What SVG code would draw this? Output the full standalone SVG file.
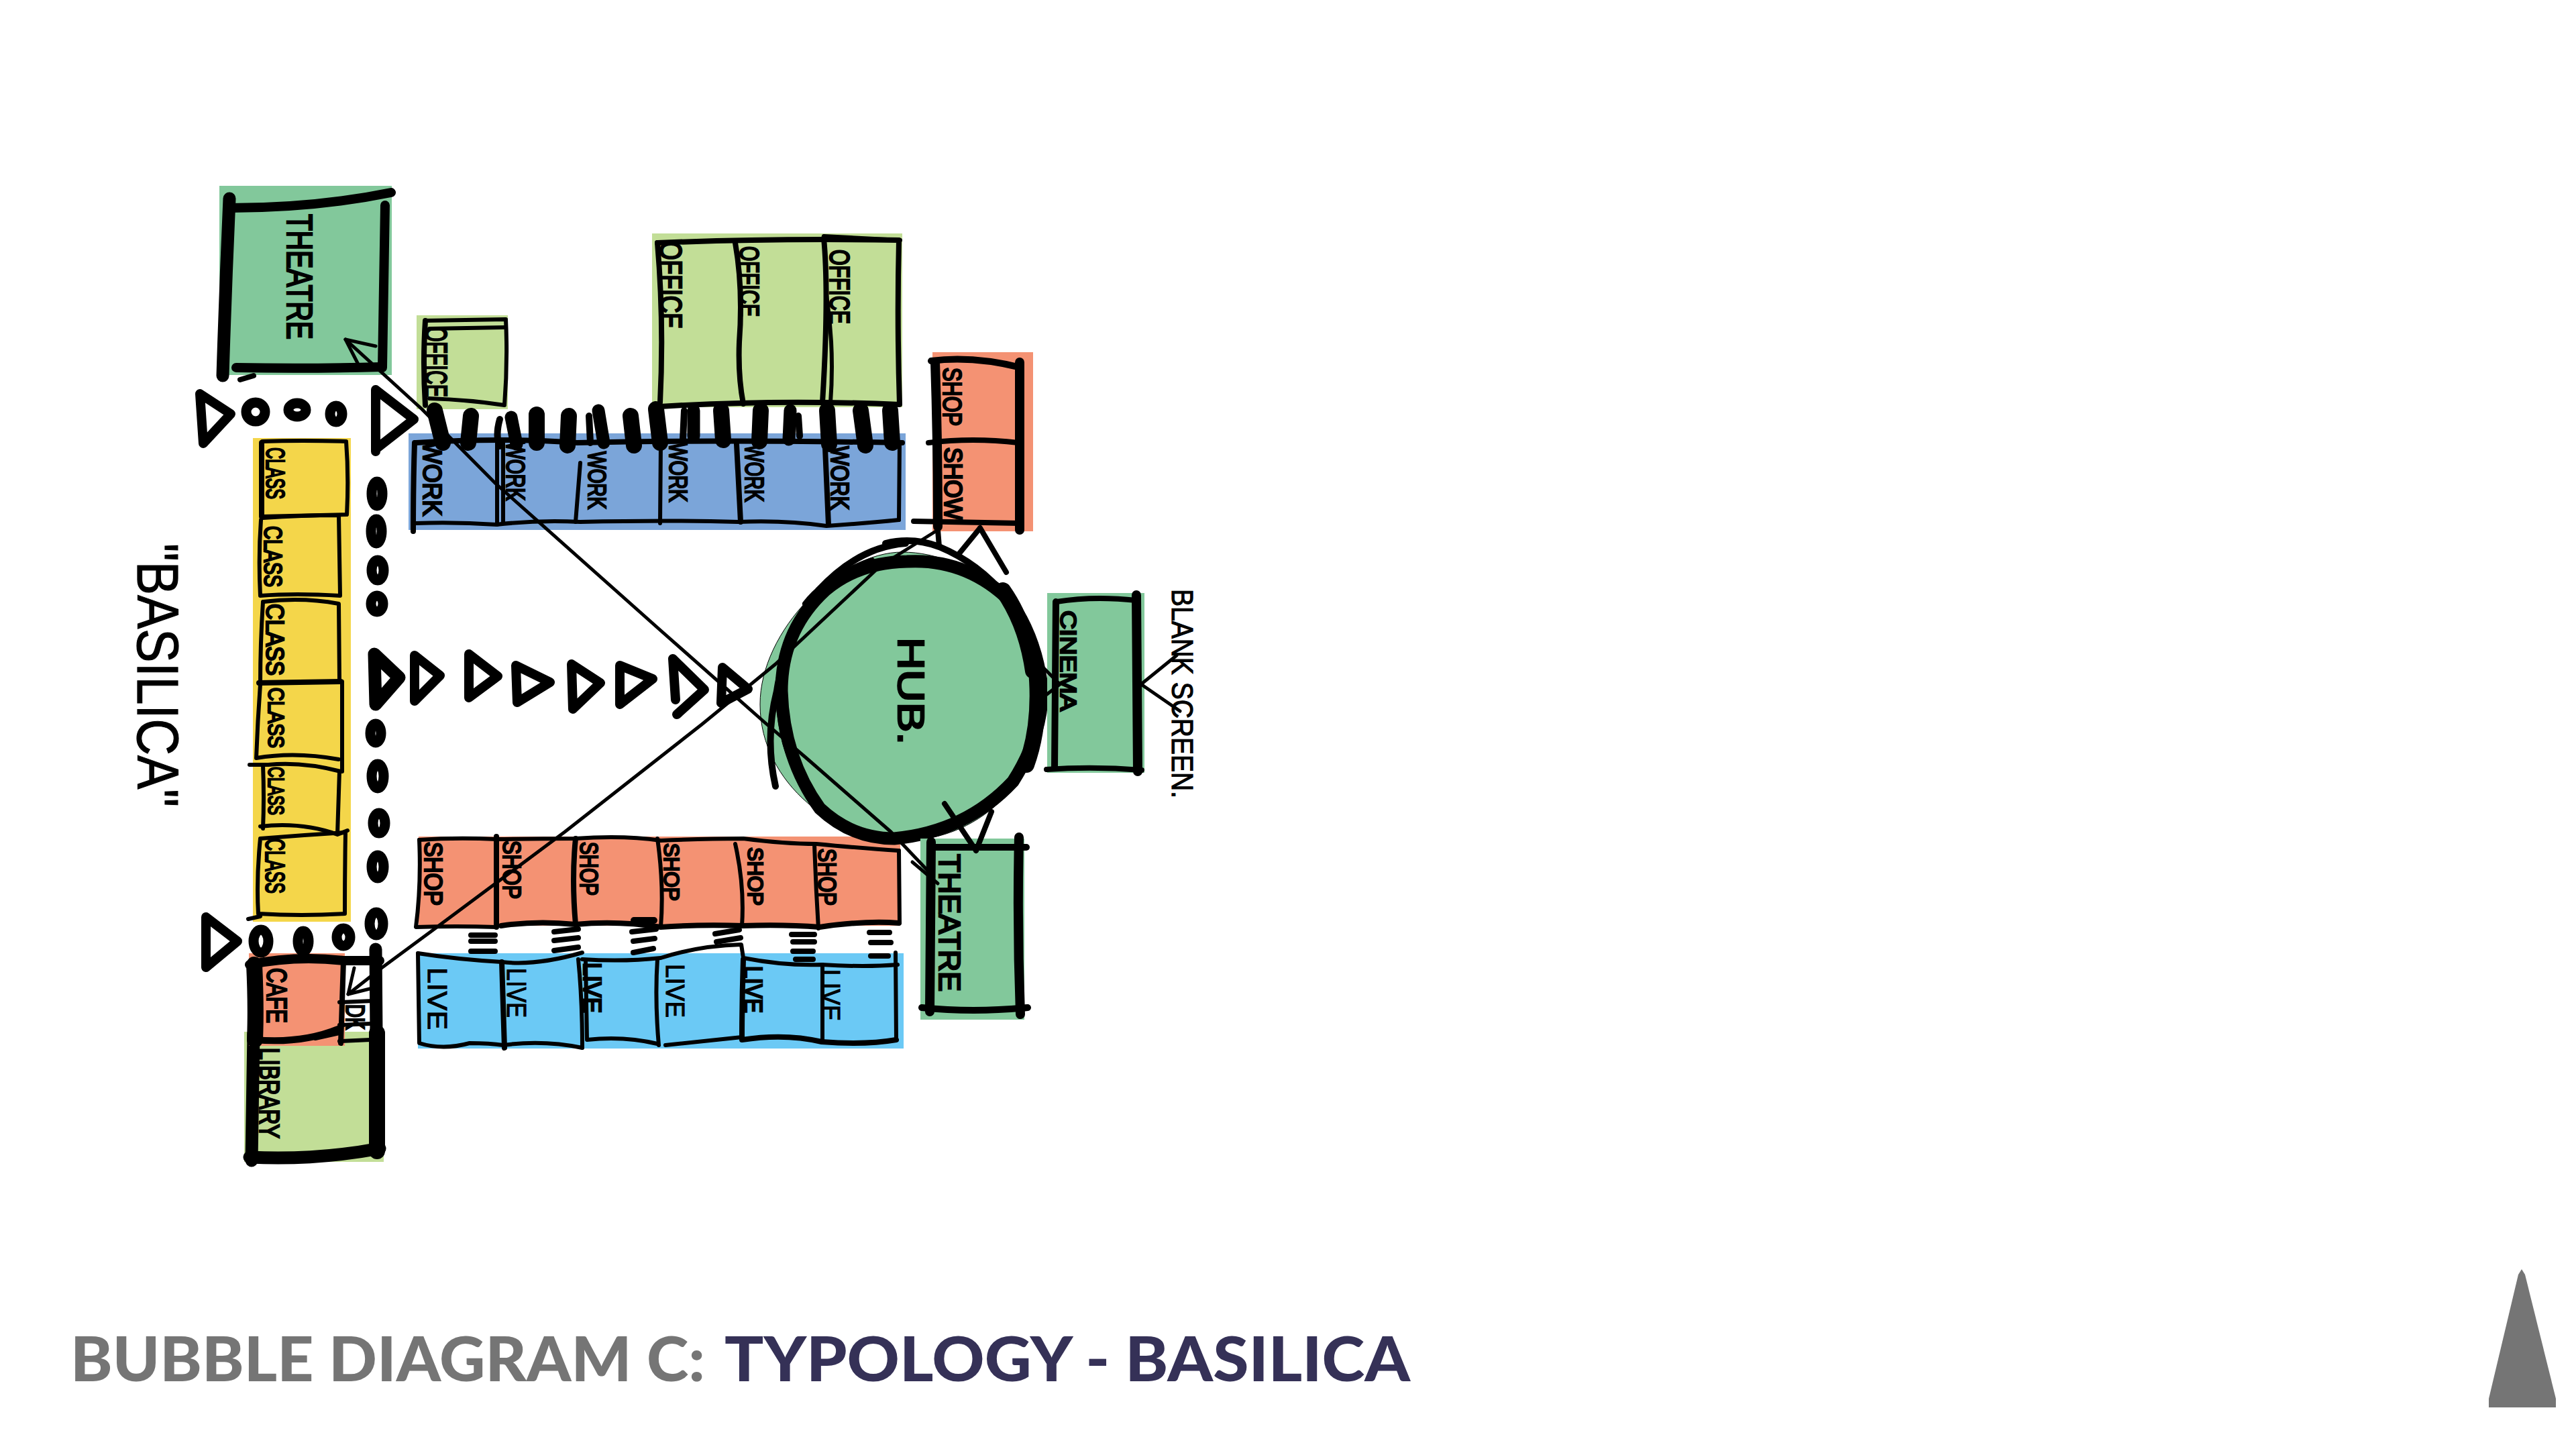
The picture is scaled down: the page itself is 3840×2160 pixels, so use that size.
<svg xmlns="http://www.w3.org/2000/svg" width="3840" height="2160" viewBox="0 0 3840 2160">
<style>
.g{fill:#82c89b}.lg{fill:#c2de97}.b{fill:#7ba5d9}.y{fill:#f4d64a}.o{fill:#f49273}.s{fill:#6bc9f5}
path,ellipse,polyline{stroke:#000;fill:none;stroke-linecap:round;stroke-linejoin:round}
.w4{stroke-width:4}.w5{stroke-width:6}.w7{stroke-width:8}.w9{stroke-width:10}.w12{stroke-width:14}.w16{stroke-width:19}.w22{stroke-width:24}.c{stroke-width:15}
.thin{stroke-width:5}
text{font-family:"Liberation Sans",Arial,sans-serif;fill:#000}
.h{stroke:#000;stroke-width:2.6;font-weight:400}
.h2{stroke:#000;stroke-width:1.2;font-weight:400}
.title{font-family:Lato,"Liberation Sans",sans-serif;font-weight:900;font-size:92px;stroke:none}
</style>
<rect width="3840" height="2160" fill="#fff"/>

<g id="node-theatre-1">
<rect class="g" x="327" y="277" width="257" height="282"/>
<path class="w16" d="M342 296Q336 430 332 560"/>
<path class="w12" d="M342 310Q470 310 583 287"/>
<path class="w12" d="M574 306Q572 430 570 548"/>
<path class="w12" d="M352 548Q460 550 568 547"/>
<path class="w7" d="M358 566L378 560"/>
<text class="h" font-size="54" transform="translate(428 319) rotate(90)" textLength="187" lengthAdjust="spacingAndGlyphs">THEATRE</text>
</g>

<g id="node-office-small">
<rect class="lg" x="621" y="470" width="136" height="140"/>
<path class="w5" d="M634 478L754 476Q757 540 752 604Q700 596 640 594"/>
<path class="w5" d="M640 490L752 488"/>
<path class="w7" d="M634 478Q630 540 634 604"/>
<text class="h" font-size="46" transform="translate(634 487) rotate(90)" textLength="105" lengthAdjust="spacingAndGlyphs">OFFICE</text>
</g>

<g id="node-offices">
<rect class="lg" x="972" y="348" width="373" height="259"/>
<path class="w7" d="M980 362Q1150 355 1340 358Q1337 480 1341 603Q1160 595 984 606"/>
<path class="w7" d="M980 362Q990 480 984 600"/>
<path class="w7" d="M1096 362Q1108 430 1102 510Q1100 560 1108 602"/>
<path class="w7" d="M1228 355Q1236 440 1226 600"/>
<path class="w5" d="M1232 440Q1244 520 1238 600"/>
<path class="w5" d="M1228 352L1342 358"/>
<text class="h" font-size="46" transform="translate(984 360) rotate(90)" textLength="130" lengthAdjust="spacingAndGlyphs">OFFICE</text>
<text class="h" font-size="40" transform="translate(1103 367) rotate(90)" textLength="105" lengthAdjust="spacingAndGlyphs">OFFICE</text>
<text class="h" font-size="42" transform="translate(1237 372) rotate(90)" textLength="111" lengthAdjust="spacingAndGlyphs">OFFICE</text>
</g>

<g id="node-work">
<rect class="b" x="609" y="646" width="741" height="144"/>
<path class="w7" d="M620 660Q750 652 860 660Q1050 655 1345 660"/>
<path class="w7" d="M618 660Q616 720 616 792"/>
<path class="w5" d="M620 780Q680 778 740 782Q800 775 865 778Q1000 775 1100 778Q1170 775 1232 784Q1290 780 1340 775"/>
<path class="w5" d="M741 660L741 782"/>
<path class="w5" d="M750 660L750 780"/>
<path class="w5" d="M865 690L858 778"/>
<path class="w5" d="M985 660L984 780"/>
<path class="w7" d="M1098 662L1104 778"/>
<path class="w7" d="M1230 668L1235 782"/>
<path class="w5" d="M1341 660L1340 775"/>
<text class="h" font-size="38" transform="translate(631 658) rotate(90)" textLength="111" lengthAdjust="spacingAndGlyphs">WORK</text>
<text class="h" font-size="38" transform="translate(755 658) rotate(90)" textLength="88" lengthAdjust="spacingAndGlyphs">WORK</text>
<text class="h" font-size="36" transform="translate(877 673) rotate(90)" textLength="86" lengthAdjust="spacingAndGlyphs">WORK</text>
<text class="h" font-size="36" transform="translate(998 660) rotate(90)" textLength="88" lengthAdjust="spacingAndGlyphs">WORK</text>
<text class="h" font-size="38" transform="translate(1111 663) rotate(90)" textLength="85" lengthAdjust="spacingAndGlyphs">WORK</text>
<text class="h" font-size="36" transform="translate(1239 665) rotate(90)" textLength="95" lengthAdjust="spacingAndGlyphs">WORK</text>
</g>

<g id="node-shop-show">
<rect class="o" x="1390" y="525" width="150" height="267"/>
<path class="w9" d="M1388 538Q1450 530 1522 548"/>
<path class="w12" d="M1394 540Q1398 660 1398 785"/>
<path class="w12" d="M1520 540L1520 790"/>
<path class="w7" d="M1384 660Q1450 652 1518 660"/>
<path class="w7" d="M1362 777L1520 780"/>
<text class="h" font-size="38" transform="translate(1406 548) rotate(90)" textLength="87" lengthAdjust="spacingAndGlyphs">SHOP</text>
<text class="h" font-size="36" transform="translate(1408 667) rotate(90)" textLength="108" lengthAdjust="spacingAndGlyphs">SHOW</text>
</g>

<g id="node-class">
<rect class="y" x="377" y="653" width="146" height="721"/>
<path class="w5" d="M391 658Q450 656 516 658Q520 710 517 767L390 770"/>
<path class="w7" d="M390 660L390 770"/>
<path class="w5" d="M392 772Q450 768 505 768L507 888Q440 884 388 888Q385 830 389 775"/>
<path class="w5" d="M393 897Q450 890 505 900L506 1013"/>
<path class="w5" d="M392 897Q388 960 388 1018"/>
<path class="w7" d="M386 1018L508 1016"/>
<path class="w5" d="M388 1020Q384 1075 382 1130Q440 1120 505 1132"/>
<path class="w5" d="M510 1016L510 1150"/>
<path class="w5" d="M372 1140L400 1140Q450 1135 508 1150"/>
<path class="w5" d="M392 1140Q394 1190 392 1235"/>
<path class="w5" d="M506 1150L503 1243"/>
<path class="w5" d="M388 1232Q450 1225 503 1244L518 1238"/>
<path class="w5" d="M388 1250Q450 1245 515 1241Q514 1300 514 1362Q450 1366 385 1362Q382 1310 388 1250"/>
<path class="w5" d="M370 1370L388 1366"/>
<text class="h" font-size="38" transform="translate(397 667) rotate(90)" textLength="77" lengthAdjust="spacingAndGlyphs">CLASS</text>
<text class="h" font-size="36" transform="translate(394 784) rotate(90)" textLength="91" lengthAdjust="spacingAndGlyphs">CLASS</text>
<text class="h" font-size="36" transform="translate(397 900) rotate(90)" textLength="107" lengthAdjust="spacingAndGlyphs">CLASS</text>
<text class="h" font-size="34" transform="translate(400 1025) rotate(90)" textLength="90" lengthAdjust="spacingAndGlyphs">CLASS</text>
<text class="h" font-size="34" transform="translate(400 1143) rotate(90)" textLength="72" lengthAdjust="spacingAndGlyphs">CLASS</text>
<text class="h" font-size="40" transform="translate(396 1250) rotate(90)" textLength="82" lengthAdjust="spacingAndGlyphs">CLASS</text>
</g>

<g id="node-shops">
<rect class="o" x="624" y="1247" width="718" height="133"/>
<path class="w5" d="M625 1252Q680 1248 740 1251Q800 1250 858 1250Q930 1245 985 1253Q1050 1250 1108 1250Q1170 1258 1217 1258Q1290 1265 1340 1268"/>
<path class="w5" d="M625 1252Q628 1320 620 1382Q680 1380 740 1382"/>
<path class="w7" d="M740 1247L740 1382"/>
<path class="w7" d="M747 1380Q800 1372 858 1378Q920 1372 985 1382Q1040 1378 1108 1380Q1170 1378 1222 1382Q1290 1372 1340 1376"/>
<path class="w7" d="M858 1250Q852 1310 858 1378"/>
<path class="w5" d="M980 1250Q990 1320 985 1382"/>
<path class="w5" d="M1096 1258Q1110 1320 1106 1380"/>
<path class="w5" d="M1214 1258Q1216 1320 1220 1384"/>
<path class="w5" d="M1340 1268L1341 1376"/>
<path class="w9" d="M945 1372L975 1372"/>
<text class="h" font-size="36" transform="translate(633 1255) rotate(90)" textLength="95" lengthAdjust="spacingAndGlyphs">SHOP</text>
<text class="h" font-size="36" transform="translate(750 1253) rotate(90)" textLength="87" lengthAdjust="spacingAndGlyphs">SHOP</text>
<text class="h" font-size="36" transform="translate(865 1255) rotate(90)" textLength="80" lengthAdjust="spacingAndGlyphs">SHOP</text>
<text class="h" font-size="32" transform="translate(990 1257) rotate(90)" textLength="86" lengthAdjust="spacingAndGlyphs">SHOP</text>
<text class="h" font-size="32" transform="translate(1115 1263) rotate(90)" textLength="87" lengthAdjust="spacingAndGlyphs">SHOP</text>
<text class="h" font-size="36" transform="translate(1220 1265) rotate(90)" textLength="85" lengthAdjust="spacingAndGlyphs">SHOP</text>
</g>

<g id="node-live">
<rect class="s" x="623" y="1421" width="724" height="142"/>
<path class="w5" d="M623 1421Q680 1430 748 1434Q800 1440 868 1420M868 1430Q930 1434 985 1428Q1040 1410 1105 1408L1108 1428Q1170 1440 1225 1438Q1290 1442 1338 1438"/>
<path class="w5" d="M623 1421L625 1555Q660 1566 700 1555Q730 1555 750 1558Q810 1550 868 1562"/>
<path class="w7" d="M748 1434L752 1562"/>
<path class="w5" d="M862 1430Q868 1490 868 1562"/>
<path class="w5" d="M873 1434L875 1550Q930 1544 980 1556"/>
<path class="w5" d="M980 1430Q976 1490 982 1558"/>
<path class="w5" d="M992 1558Q1050 1552 1106 1546"/>
<path class="w7" d="M1108 1430Q1106 1490 1106 1550Q1170 1540 1225 1553Q1290 1558 1336 1550"/>
<path class="w5" d="M1226 1438L1226 1553"/>
<path class="w5" d="M1335 1420L1336 1550"/>
<text class="h2" font-size="40" transform="translate(638 1442) rotate(90)" textLength="93" lengthAdjust="spacingAndGlyphs">LIVE</text>
<text class="h2" font-size="40" transform="translate(756 1443) rotate(90)" textLength="74" lengthAdjust="spacingAndGlyphs">LIVE</text>
<text class="h" font-size="36" transform="translate(870 1435) rotate(90)" textLength="75" lengthAdjust="spacingAndGlyphs">LIVE</text>
<text class="h2" font-size="38" transform="translate(993 1437) rotate(90)" textLength="80" lengthAdjust="spacingAndGlyphs">LIVE</text>
<text class="h" font-size="36" transform="translate(1110 1440) rotate(90)" textLength="70" lengthAdjust="spacingAndGlyphs">LIVE</text>
<text class="h2" font-size="38" transform="translate(1225 1445) rotate(90)" textLength="77" lengthAdjust="spacingAndGlyphs">LIVE</text>
</g>

<g id="node-library">
<rect class="lg" x="364" y="1538" width="208" height="194"/>
<path class="w16" d="M378 1540Q376 1640 375 1730"/>
<path class="w16" d="M372 1725Q470 1730 566 1712"/>
<path class="w22" d="M562 1540L562 1716"/>
<text class="h" font-size="42" transform="translate(387 1562) rotate(90)" textLength="135" lengthAdjust="spacingAndGlyphs">LIBRARY</text>
</g>

<g id="node-cafe">
<rect class="o" x="371" y="1421" width="143" height="138"/>
<path class="w12" d="M372 1438Q440 1424 512 1432L566 1432"/>
<path class="w22" d="M379 1438Q382 1500 380 1550"/>
<path class="w9" d="M380 1550Q450 1556 504 1534"/>
<path class="w5" d="M470 1548L506 1540"/>
<path class="w7" d="M512 1432L508 1555"/>
<path class="w16" d="M560 1415L561 1540"/>
<path class="w5" d="M506 1494L556 1492M506 1528L552 1526M506 1552L552 1550"/>
<text class="h" font-size="42" transform="translate(398 1443) rotate(90)" textLength="82" lengthAdjust="spacingAndGlyphs">CAFE</text>
<text class="h" font-size="38" transform="translate(516 1497) rotate(90)" textLength="38" lengthAdjust="spacingAndGlyphs">DK</text>
</g>

<g id="node-hub">
<path class="g" d="M1345 823C1250 823 1133 940 1133 1050C1133 1170 1250 1253 1345 1253C1470 1253 1558 1150 1558 1035C1558 915 1450 823 1345 823Z"/>
<path class="w16" d="M1352 837Q1280 838 1230 880Q1165 940 1165 1030Q1168 1130 1222 1205Q1270 1250 1333 1250Q1440 1240 1510 1165Q1552 1100 1554 1030Q1545 950 1505 895Q1440 832 1352 837Z"/>
<path class="w22" d="M1495 880Q1530 930 1540 1000"/>
<path class="w22" d="M1545 1000Q1552 1080 1530 1140"/>
<path class="w9" d="M1320 810Q1360 800 1400 815Q1460 840 1500 890"/>
<path class="w9" d="M1350 810Q1280 815 1220 880Q1170 950 1158 1030Q1140 1100 1156 1172"/>
<path class="w7" d="M1200 900Q1230 860 1300 835"/>
<path class="w7" d="M1160 1040Q1165 1120 1190 1150"/>
<path class="w5" d="M1340 1254Q1440 1240 1480 1190"/>
<text class="h" font-size="56" transform="translate(1339 950) rotate(90)" textLength="160" lengthAdjust="spacingAndGlyphs">HUB.</text>
</g>

<g id="node-cinema">
<rect class="g" x="1561" y="884" width="145" height="268"/>
<path class="w7" d="M1575 897Q1630 888 1694 895"/>
<path class="w9" d="M1574 897L1572 1145"/>
<path class="w12" d="M1694 887L1696 1150"/>
<path class="w7" d="M1560 1147Q1630 1142 1702 1148"/>
<text class="h" font-size="34" transform="translate(1581 910) rotate(90)" textLength="150" lengthAdjust="spacingAndGlyphs">CINEMA</text>
</g>

<g id="label-blank-screen">
<text class="h2" font-size="44" transform="translate(1747 878) rotate(90)" textLength="312" lengthAdjust="spacingAndGlyphs">BLANK SCREEN.</text>
</g>

<g id="node-theatre-2">
<rect class="g" x="1372" y="1250" width="155" height="270"/>
<path class="w12" d="M1388 1255L1386 1508"/>
<path class="w12" d="M1519 1248Q1516 1380 1521 1512"/>
<path class="w9" d="M1392 1263L1530 1263"/>
<path class="w9" d="M1374 1502Q1450 1510 1532 1502"/>
<text class="h" font-size="44" transform="translate(1400 1273) rotate(90)" textLength="205" lengthAdjust="spacingAndGlyphs">THEATRE</text>
</g>

<g id="label-basilica">
<text class="h2" font-size="88" transform="translate(205 810) rotate(90)" textLength="393" lengthAdjust="spacingAndGlyphs">"BASILICA"</text>
</g>

<g id="connectors">
<path class="thin" d="M515 506L629 610L739 721L985 940L1140 1077L1202 1130L1328 1240L1385 1300"/>
<path class="thin" d="M515 506L560 516M515 506L535 545"/>
<path class="thin" d="M1398 1317L1360 1285"/>
<path class="thin" d="M519 1482L566 1445L650 1383L842 1240L1046 1080L1156 990L1313 843L1398 790"/>
<path class="thin" d="M519 1482L528 1443M519 1482L555 1473"/>
<path class="w7" d="M1461 787L1430 825M1461 787L1500 853"/>
<path class="w7" d="M1398 790L1400 815"/>
<path class="w7" d="M1455 1268L1408 1198M1455 1268L1478 1210"/>
<path class="thin" d="M1553 993L1580 1020L1558 1037"/>
<path class="thin" d="M1754 977L1701 1020L1759 1060"/>
<path class="w7" d="M702 1394H738M702 1403H738M702 1418H738"/>
<path class="w7" d="M826 1389L862 1385M826 1402L862 1398M826 1417L862 1412"/>
<path class="w7" d="M942 1389L978 1385M944 1403L976 1399M944 1420L974 1414"/>
<path class="w7" d="M1066 1392L1102 1386M1068 1404L1104 1398"/>
<path class="w7" d="M1180 1393H1214M1182 1404H1214M1182 1418H1212M1186 1430H1212"/>
<path class="w7" d="M1296 1390H1326M1298 1405H1328M1298 1425H1324"/>
</g>

<g id="bars">
<path class="w22" d="M648 612L660 660"/><path class="w22" d="M702 620L698 660"/>
<path class="w9" d="M745 625Q738 650 745 665"/><path class="w16" d="M762 622L770 662"/>
<path class="w22" d="M800 618L800 660"/><path class="w22" d="M848 620L846 664"/>
<path class="w9" d="M878 620L880 660"/><path class="w16" d="M892 612L900 660"/><path class="w22" d="M940 620L945 664"/>
<path class="w22" d="M978 610L984 660"/><path class="w9" d="M1020 612L1018 655"/>
<path class="w16" d="M1034 612L1034 650"/><path class="w22" d="M1075 612L1078 656"/>
<path class="w22" d="M1134 612L1132 658"/><path class="w16" d="M1178 612L1176 655"/><path class="w9" d="M1190 620L1192 650"/>
<path class="w22" d="M1233 612L1236 662"/><path class="w22" d="M1283 612L1290 664"/><path class="w22" d="M1327 612L1330 660"/>
</g>

<g id="pathway">
<path class="w12" d="M298 587L344 617L303 661Z"/>
<path class="w12" d="M560 581L560 673M560 581L617 625L562 668"/>
<ellipse class="c" cx="381" cy="614" rx="14" ry="14"/>
<ellipse class="c" cx="443" cy="611" rx="13" ry="10"/>
<ellipse class="c" cx="501" cy="617" rx="9" ry="12"/>
<ellipse class="c" cx="562" cy="736" rx="8" ry="18"/>
<ellipse class="c" cx="561" cy="792" rx="8" ry="18"/>
<ellipse class="c" cx="563" cy="850" rx="9" ry="15"/>
<ellipse class="c" cx="562" cy="900" rx="9" ry="12"/>
<ellipse class="c" cx="560" cy="1093" rx="8" ry="14"/>
<ellipse class="c" cx="563" cy="1157" rx="9" ry="18"/>
<ellipse class="c" cx="565" cy="1227" rx="9" ry="15"/>
<ellipse class="c" cx="563" cy="1292" rx="9" ry="17"/>
<ellipse class="c" cx="561" cy="1377" rx="10" ry="17"/>
<ellipse class="c" cx="389" cy="1403" rx="11" ry="17"/>
<ellipse class="c" cx="452" cy="1403" rx="8" ry="15"/>
<ellipse class="c" cx="512" cy="1397" rx="10" ry="13"/>
<path class="w12" d="M307 1367L354 1403L307 1442Z"/>
<path class="w16" d="M558 975L595 1010L560 1050Z"/>
<path class="w12" d="M618 977L656 1007L618 1045Z"/>
<path class="w12" d="M699 975L742 1008L699 1040Z"/>
<path class="w12" d="M769 992L820 1017L771 1047Z"/>
<path class="w12" d="M852 990L895 1018L854 1057Z"/>
<path class="w12" d="M924 992L973 1012L924 1050Z"/>
<path class="w12" d="M1003 982L1007 1043M1003 982L1050 1028L1009 1065"/>
<path class="w12" d="M1077 995L1115 1027L1075 1048Z"/>
</g>

<g id="title">
<text class="title" x="105" y="2059" style="fill:#757575" textLength="946" lengthAdjust="spacingAndGlyphs">BUBBLE DIAGRAM C:</text>
<text class="title" x="1080" y="2059" style="fill:#353157" textLength="1022" lengthAdjust="spacingAndGlyphs">TYPOLOGY - BASILICA</text>
</g>
<polygon points="3759,1892 3764,1900 3810,2085 3810,2098 3710,2098 3710,2085 3754,1900" fill="#757575"/>
</svg>
